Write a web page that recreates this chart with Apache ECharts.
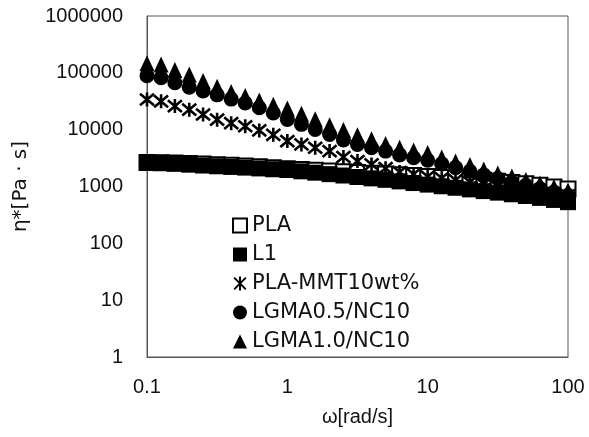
<!DOCTYPE html>
<html>
<head>
<meta charset="utf-8">
<script src="https://cdn.jsdelivr.net/npm/echarts@6/dist/echarts.min.js"></script>
<style>
  html, body { margin: 0; padding: 0; background: #fff; }
  #chart { width: 589px; height: 437px; }
</style>
</head>
<body>
<div id="chart"></div>
<script>
// angular frequency [rad/s], 10 points per decade
const freq = [0.1, 0.126, 0.158, 0.2, 0.251, 0.316, 0.398, 0.501, 0.631, 0.794,
  1, 1.26, 1.58, 2, 2.51, 3.16, 3.98, 5.01, 6.31, 7.94,
  10, 12.6, 15.8, 20, 25.1, 31.6, 39.8, 50.1, 63.1, 79.4, 100]

// complex viscosity [Pa·s]
const plaVals = [2650, 2620, 2580, 2530, 2480, 2420, 2360, 2290, 2220, 2140,
  2060, 1990, 1930, 1870, 1810, 1760, 1710, 1660, 1610, 1560,
  1500, 1440, 1390, 1340, 1290, 1240, 1180, 1120, 1050, 980, 900]
const l1Vals = [2700, 2620, 2520, 2420, 2340, 2270, 2210, 2150, 2080, 2010,
  1950, 1850, 1750, 1650, 1560, 1470, 1390, 1310, 1230, 1150,
  1080, 1010, 950, 890, 830, 780, 730, 680, 630, 580, 530]
const mmtVals = [34000, 31500, 26000, 22500, 18500, 15000, 13000, 11500, 9700, 8100,
  6300, 5500, 4800, 4200, 3300, 2800, 2450, 2100, 1800, 1650,
  1500, 1400, 1300, 1200, 1100, 1020, 950, 880, 820, 760, 700]
const lgma05Vals = [89000, 82000, 67000, 56000, 48000, 41000, 34500, 29500, 24300, 19700,
  15100, 12400, 10100, 8200, 6600, 5500, 4800, 4200, 3600, 3200,
  2900, 2500, 2150, 1850, 1600, 1380, 1200, 1050, 920, 800, 700]
const lgma10Vals = [148000, 140000, 112000, 93000, 72000, 57000, 46000, 39000, 32500, 27500,
  23500, 19000, 15300, 12000, 9900, 8000, 6800, 5600, 4800, 4300,
  3900, 3250, 2750, 2400, 2000, 1700, 1500, 1300, 1130, 980, 850]

const seriesNames = ['PLA', 'L1', 'PLA-MMT10wt%', 'LGMA0.5/NC10', 'LGMA1.0/NC10']
const xTicks = [0.1, 1, 10, 100]
const yTicks = [1, 10, 100, 1000, 10000, 100000, 1000000]

const ink = '#000'
const labelFont = 'Liberation Sans, Arial, sans-serif'
const starPath = 'path://M0,0L10,10M10,0L0,10M5,-1L5,11'

function pairs(vals) {
  return freq.map((f, i) => [f, vals[i]])
}

function fmt(v) {
  return String(Number(v.toPrecision(6)))
}

const option = {
  animation: false,
  backgroundColor: '#fff',
  grid: {
    left: 147,
    right: 21,
    top: 16,
    bottom: 80,
    show: true,
    borderColor: '#555',
    borderWidth: 1
  },
  legend: {
    orient: 'vertical',
    left: 232,
    top: 215,
    padding: 0,
    itemGap: 8,
    itemWidth: 14,
    itemHeight: 14,
    selectedMode: false,
    textStyle: { fontSize: 21, color: '#111', fontFamily: 'DejaVu Sans, sans-serif' },
    data: seriesNames
  },
  xAxis: {
    type: 'log',
    logBase: 10,
    min: xTicks[0],
    max: xTicks[xTicks.length - 1],
    splitNumber: 3,
    name: 'ω[rad/s]',
    nameLocation: 'middle',
    nameGap: 50,
    nameTextStyle: { fontSize: 20, color: '#111', fontFamily: labelFont },
    axisLine: { lineStyle: { color: '#555', width: 1 } },
    axisTick: { show: false },
    splitLine: { show: false },
    minorTick: { show: false },
    axisLabel: {
      margin: 20,
      fontSize: 20,
      color: '#111',
      fontFamily: labelFont,
      formatter: fmt
    }
  },
  yAxis: {
    type: 'log',
    logBase: 10,
    min: yTicks[0],
    max: yTicks[yTicks.length - 1],
    splitNumber: 6,
    name: 'η*[Pa · s]',
    nameLocation: 'middle',
    nameRotate: 90,
    nameGap: 116,
    nameTextStyle: { fontSize: 20, color: '#111', fontFamily: 'DejaVu Sans, sans-serif' },
    axisLine: { lineStyle: { color: '#555', width: 1 } },
    axisTick: { show: false },
    splitLine: { show: false },
    axisLabel: {
      margin: 24,
      fontSize: 20,
      color: '#111',
      fontFamily: labelFont,
      formatter: fmt
    }
  },
  series: [
    {
      name: seriesNames[0],
      type: 'scatter',
      clip: false,
      symbol: 'emptyRect',
      symbolSize: 15,
      itemStyle: { color: ink, borderColor: ink, borderWidth: 1.5, opacity: 1 },
      data: pairs(plaVals)
    },
    {
      name: seriesNames[1],
      type: 'scatter',
      clip: false,
      symbol: 'rect',
      symbolSize: 16,
      itemStyle: { color: ink, opacity: 1 },
      data: pairs(l1Vals)
    },
    {
      name: seriesNames[2],
      type: 'scatter',
      clip: false,
      symbol: starPath,
      symbolSize: 14,
      itemStyle: { color: ink, borderColor: ink, borderWidth: 2.6, opacity: 1 },
      data: pairs(mmtVals)
    },
    {
      name: seriesNames[3],
      type: 'scatter',
      clip: false,
      symbol: 'circle',
      symbolSize: 15,
      itemStyle: { color: ink, opacity: 1 },
      data: pairs(lgma05Vals)
    },
    {
      name: seriesNames[4],
      type: 'scatter',
      clip: false,
      symbol: 'triangle',
      symbolSize: [15, 16],
      itemStyle: { color: ink, opacity: 1 },
      data: pairs(lgma10Vals)
    }
  ]
}

const chart = echarts.init(document.getElementById('chart'), null, { renderer: 'canvas' })
option && chart.setOption(option, true)
</script>
</body>
</html>
